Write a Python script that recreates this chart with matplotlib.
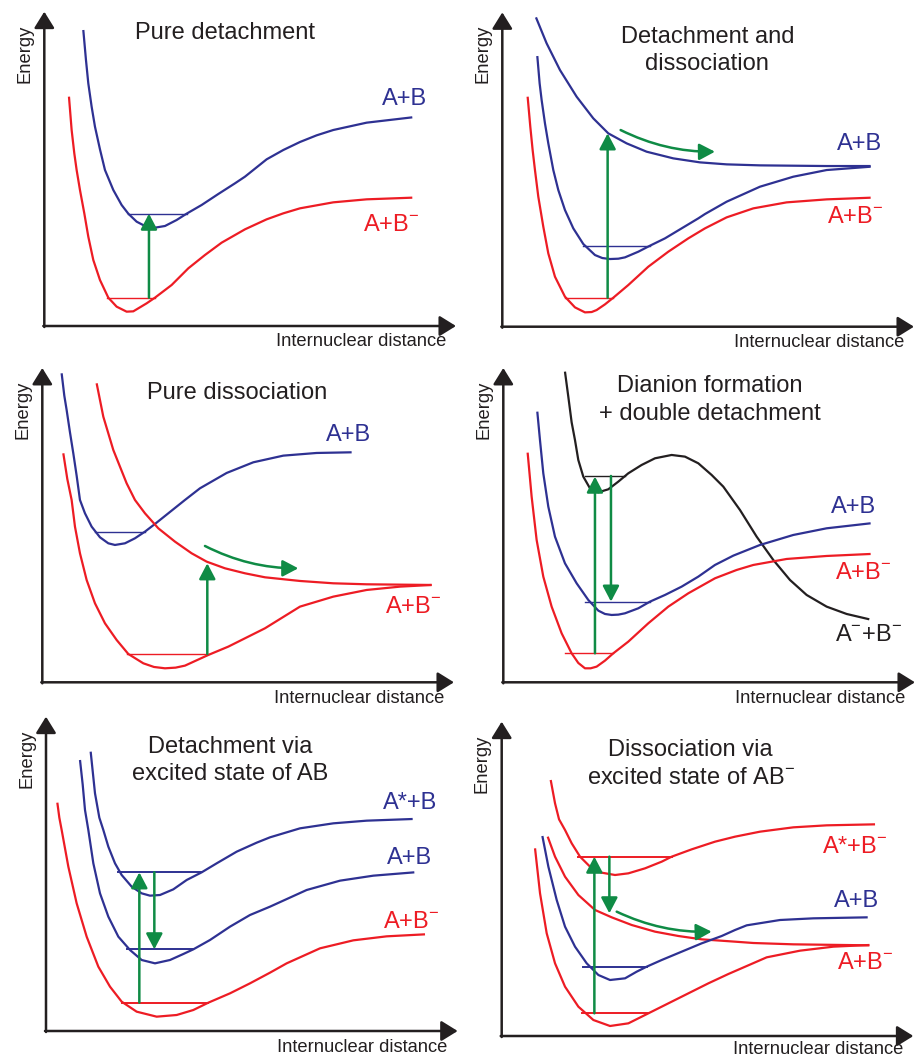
import matplotlib
matplotlib.use("Agg")
import matplotlib.pyplot as plt

plt.rcParams['font.family'] = ['Liberation Sans', 'DejaVu Sans']
plt.rcParams['mathtext.fontset'] = 'custom'
plt.rcParams['mathtext.rm'] = 'Liberation Sans'
plt.rcParams['mathtext.it'] = 'Liberation Sans'
plt.rcParams['mathtext.default'] = 'regular'

RED = '#ed1c24'
BLUE = '#2e3192'
BLACK = '#231f20'
GREEN = '#0f8b45'

# ---- potential curves (arbitrary units: distance, energy) ----
# panel 1: pure detachment
p1_ab_x = [117, 125, 132, 142, 152, 167, 182, 207, 232, 252, 277, 302, 332, 362, 397, 427, 472,
           522, 572, 602, 667, 717, 767, 817, 867, 967, 1104]
p1_ab_y = [888, 798, 728, 658, 598, 530, 468, 408, 363, 337, 313, 300, 295, 300, 318, 337, 363,
           396, 428, 448, 500, 528, 552, 572, 588, 610, 626]
p1_abm_x = [74, 82, 90, 97, 107, 120, 132, 147, 167, 192, 217, 247, 267, 282, 307, 332, 382, 432,
            482, 532, 602, 667, 717, 767, 867, 967, 1104]
p1_abm_y = [688, 588, 518, 468, 408, 338, 268, 198, 138, 85, 58, 43, 44, 53, 68, 85, 123, 173,
            213, 250, 290, 320, 338, 353, 371, 380, 385]

# panel 2: detachment and dissociation
p2_rep_x = [101, 133, 173, 223, 273, 318, 373, 433, 513, 593, 673, 773, 873, 973, 1105]
p2_rep_y = [928, 850, 770, 690, 625, 580, 550, 525, 505, 493, 487, 484, 483, 482, 482]
p2_ab_x = [105, 112, 118, 128, 138, 153, 168, 188, 213, 243, 278, 300, 323, 348, 368, 408, 443,
           488, 538, 588, 608, 673, 773, 873, 973, 1105]
p2_ab_y = [812, 730, 680, 610, 550, 470, 410, 350, 295, 248, 215, 206, 203, 204, 208, 225, 243,
           265, 295, 325, 338, 375, 420, 450, 470, 480]
p2_abm_x = [76, 84, 91, 98, 108, 123, 138, 158, 188, 218, 248, 268, 283, 308, 333, 378, 438, 498,
            558, 608, 673, 753, 853, 973, 1105]
p2_abm_y = [690, 600, 530, 470, 390, 300, 220, 150, 90, 58, 43, 44, 50, 67, 87, 125, 180, 225,
            265, 295, 328, 355, 373, 382, 387]

# panel 3: pure dissociation
p3_ab_x = [58, 66, 73, 83, 93, 103, 113, 128, 148, 173, 198, 218, 248, 278, 308, 338, 378, 428,
           473, 553, 633, 723, 823, 928]
p3_ab_y = [927, 860, 817, 750, 687, 620, 547, 507, 467, 435, 417, 412, 417, 432, 452, 475, 507,
           547, 582, 628, 660, 680, 688, 690]
p3_rep_x = [163, 183, 213, 253, 278, 308, 348, 398, 448, 493, 548, 608, 668, 773, 873, 973, 1168]
p3_rep_y = [897, 797, 697, 597, 547, 507, 462, 422, 387, 362, 342, 327, 315, 304, 297, 294, 292]
p3_abm_x = [63, 75, 88, 98, 113, 133, 158, 188, 223, 258, 303, 335, 368, 400, 428, 498, 558, 618,
            668, 773, 873, 973, 1073, 1168]
p3_abm_y = [687, 610, 547, 467, 387, 307, 237, 177, 127, 85, 57, 46, 42, 44, 50, 82, 107, 137,
            162, 227, 257, 277, 287, 292]

# panel 4: dianion formation + double detachment
p4_di_x = [185, 195, 205, 215, 225, 240, 260, 285, 315, 345, 375, 415, 455, 505, 545, 585, 625,
           660, 710, 760, 810, 860, 910, 970, 1030, 1098]
p4_di_y = [932, 857, 780, 727, 667, 617, 582, 570, 579, 602, 627, 652, 672, 682, 677, 657, 622,
           587, 517, 437, 367, 307, 262, 227, 205, 189]
p4_ab_x = [102, 110, 120, 135, 155, 185, 220, 255, 285, 305, 325, 345, 365, 405, 440, 485, 535,
           585, 635, 690, 770, 870, 970, 1102]
p4_ab_y = [812, 727, 627, 527, 437, 357, 297, 247, 215, 205, 202, 203, 207, 222, 242, 262, 287,
           317, 352, 380, 412, 442, 462, 477]
p4_abm_x = [73, 85, 100, 120, 145, 175, 205, 225, 245, 262, 280, 305, 330, 375, 435, 495, 555,
            635, 700, 750, 850, 970, 1102]
p4_abm_y = [689, 557, 427, 317, 227, 147, 87, 58, 42, 42, 47, 65, 87, 122, 177, 227, 267, 312,
            337, 352, 370, 379, 385]

# panel 5: detachment via excited state of AB
p5_exc_x = [134, 147, 160, 172, 187, 207, 227, 257, 287, 312, 342, 382, 422, 467, 512, 572, 632,
            672, 762, 862, 962, 1100]
p5_exc_y = [838, 713, 640, 603, 553, 503, 468, 433, 413, 406, 408, 425, 453, 476, 503, 538, 565,
            581, 608, 623, 631, 636]
p5_ab_x = [102, 110, 117, 127, 142, 162, 187, 217, 252, 287, 327, 372, 412, 442, 492, 552, 612,
           672, 782, 882, 982, 1105]
p5_ab_y = [813, 740, 663, 603, 503, 413, 343, 283, 243, 213, 203, 213, 231, 245, 273, 313, 348,
           373, 423, 451, 466, 476]
p5_abm_x = [34, 40, 47, 67, 92, 122, 157, 192, 227, 272, 332, 392, 442, 487, 552, 612, 672, 722,
            822, 922, 1022, 1137]
p5_abm_y = [685, 640, 603, 493, 383, 283, 193, 133, 88, 58, 43, 48, 63, 85, 113, 143, 175, 203,
            248, 272, 284, 290]

# panel 6: dissociation via excited state of AB-
p6_exc_x = [147, 160, 172, 190, 210, 235, 265, 300, 340, 380, 430, 480, 510, 570, 640, 700, 775,
            875, 975, 1120]
p6_exc_y = [768, 698, 650, 618, 578, 538, 508, 490, 483, 488, 503, 523, 538, 560, 583, 598, 613,
            626, 632, 635]
p6_rep_x = [138, 160, 190, 230, 280, 330, 390, 460, 530, 600, 700, 755, 875, 1103]
p6_rep_y = [598, 538, 478, 423, 378, 356, 333, 313, 300, 290, 283, 279, 275, 272]
p6_ab_x = [122, 140, 165, 190, 220, 255, 290, 325, 370, 405, 435, 480, 540, 600, 660, 700, 735,
           835, 935, 1098]
p6_ab_y = [600, 508, 408, 328, 268, 218, 183, 168, 173, 193, 208, 228, 253, 278, 300, 318, 332,
           348, 353, 356]
p6_abm_x = [100, 115, 135, 160, 190, 230, 275, 325, 380, 440, 490, 560, 620, 680, 795, 895, 995,
            1103]
p6_abm_y = [563, 428, 308, 218, 148, 88, 48, 30, 38, 68, 93, 128, 158, 186, 236, 256, 268, 273]

TIP_X, TIP_Y = 1235, 943

fig = plt.figure(figsize=(9.14, 10.59), dpi=100)


def panel(ox, oy, title, ty, xl_y=-48):
    ax = fig.add_axes([(ox - 45) / 914, (1059 - oy - 33) / 1059, 470 / 914, 363 / 1059])
    ax.set_xlim(-135, 1275)
    ax.set_ylim(-99, 990)
    ax.axis('off')
    ax.patch.set_visible(False)
    ap = dict(arrowstyle='-|>,head_length=1.0,head_width=0.62', color=BLACK, lw=1.8,
              mutation_scale=10, shrinkA=0, shrinkB=0)
    ax.annotate('', xy=(0, TIP_Y), xytext=(0, -3), arrowprops=ap)
    ax.annotate('', xy=(TIP_X, 0), xytext=(-3, 0), arrowprops=ap)
    ax.text(-58, 818, 'Energy', rotation=90, ha='center', va='center', fontsize=13.2, color=BLACK)
    ax.text(1205, xl_y, 'Internuclear distance', ha='right', va='center', fontsize=13.2,
            color=BLACK)
    ax.text(ty[0], ty[1], title, ha='center', va='center', fontsize=17, color=BLACK,
            linespacing=1.3)
    return ax


def curve(ax, x, y, c):
    ax.plot(x, y, color=c, lw=1.6, solid_joinstyle='round', solid_capstyle='butt')


def level(ax, x0, x1, y, c, lw=1.0):
    ax.plot([x0, x1], [y, y], color=c, lw=lw)


def varrow(ax, x, y0, y1):
    ax.annotate('', xy=(x, y1), xytext=(x, y0),
                arrowprops=dict(arrowstyle='-|>,head_length=0.95,head_width=0.5', color=GREEN,
                                lw=1.8, mutation_scale=10, shrinkA=0, shrinkB=0))


def carrow(ax, start, end):
    ax.annotate('', xy=end, xytext=start,
                arrowprops=dict(arrowstyle='-|>,head_length=0.95,head_width=0.5', color=GREEN,
                                lw=1.8, mutation_scale=10, shrinkA=0, shrinkB=0,
                                connectionstyle='arc3,rad=0.12'))


def label(ax, x, y, s, c):
    ax.text(x, y, s, ha='center', va='center', fontsize=17, color=c)


# ---------- panel 1 ----------
ax = panel(44.3, 326, 'Pure detachment', (542, 878))
curve(ax, p1_ab_x, p1_ab_y, BLUE)
curve(ax, p1_abm_x, p1_abm_y, RED)
level(ax, 252, 427, 337, BLUE)
level(ax, 187, 332, 85, RED)
varrow(ax, 314, 85, 337)
label(ax, 1082, 680, 'A+B', BLUE)
label(ax, 1042, 303, 'A+B$^{-}$', RED)

# ---------- panel 2 ----------
ax = panel(502.3, 326.7, 'Detachment and\ndissociation', (615, 829))
curve(ax, p2_rep_x, p2_rep_y, BLUE)
curve(ax, p2_ab_x, p2_ab_y, BLUE)
curve(ax, p2_abm_x, p2_abm_y, RED)
level(ax, 243, 443, 243, BLUE)
level(ax, 188, 333, 87, RED)
varrow(ax, 316, 87, 580)
carrow(ax, (355, 590), (638, 525))
label(ax, 1073, 548, 'A+B', BLUE)
label(ax, 1058, 330, 'A+B$^{-}$', RED)

# ---------- panel 3 ----------
ax = panel(42.3, 682.3, 'Pure dissociation', (585, 867))
curve(ax, p3_ab_x, p3_ab_y, BLUE)
curve(ax, p3_rep_x, p3_rep_y, RED)
curve(ax, p3_abm_x, p3_abm_y, RED)
level(ax, 158, 308, 452, BLUE)
level(ax, 253, 498, 85, RED)
varrow(ax, 495, 85, 357)
carrow(ax, (488, 409), (768, 342))
label(ax, 918, 742, 'A+B', BLUE)
label(ax, 1113, 227, 'A+B$^{-}$', RED)

# ---------- panel 4 ----------
ax = panel(503.3, 682.3, 'Dianion formation\n+ double detachment', (620, 847))
curve(ax, p4_di_x, p4_di_y, BLACK)
curve(ax, p4_ab_x, p4_ab_y, BLUE)
curve(ax, p4_abm_x, p4_abm_y, RED)
level(ax, 245, 365, 619, BLACK)
level(ax, 245, 440, 242, BLUE)
level(ax, 185, 330, 87, RED)
varrow(ax, 275, 87, 617)
varrow(ax, 323, 619, 242)
label(ax, 1050, 527, 'A+B', BLUE)
label(ax, 1080, 327, 'A+B$^{-}$', RED)
label(ax, 1095, 142, 'A$^{-}$+B$^{-}$', BLACK)

# ---------- panel 5 ----------
ax = panel(46, 1031, 'Detachment via\nexcited state of AB', (552, 811))
curve(ax, p5_exc_x, p5_exc_y, BLUE)
curve(ax, p5_ab_x, p5_ab_y, BLUE)
curve(ax, p5_abm_x, p5_abm_y, RED)
level(ax, 217, 467, 476, BLUE, 1.4)
level(ax, 242, 442, 245, BLUE, 1.4)
level(ax, 227, 487, 85, RED, 1.4)
varrow(ax, 280, 85, 476)
varrow(ax, 325, 476, 245)
label(ax, 1092, 685, 'A*+B', BLUE)
label(ax, 1092, 518, 'A+B', BLUE)
label(ax, 1097, 328, 'A+B$^{-}$', RED)

# ---------- panel 6 ----------
ax = panel(501.7, 1036, 'Dissociation via\nexcited state of AB$^{-}$', (567, 816), xl_y=-40)
curve(ax, p6_exc_x, p6_exc_y, RED)
curve(ax, p6_rep_x, p6_rep_y, RED)
curve(ax, p6_ab_x, p6_ab_y, BLUE)
curve(ax, p6_abm_x, p6_abm_y, RED)
level(ax, 230, 510, 538, RED, 1.4)
level(ax, 245, 435, 208, BLUE, 1.4)
level(ax, 240, 440, 68, RED, 1.4)
varrow(ax, 278, 68, 538)
varrow(ax, 323, 538, 368)
carrow(ax, (345, 373), (630, 313))
label(ax, 1060, 566, 'A*+B$^{-}$', RED)
label(ax, 1065, 405, 'A+B', BLUE)
label(ax, 1090, 218, 'A+B$^{-}$', RED)

fig.savefig('out.png', dpi=100)
